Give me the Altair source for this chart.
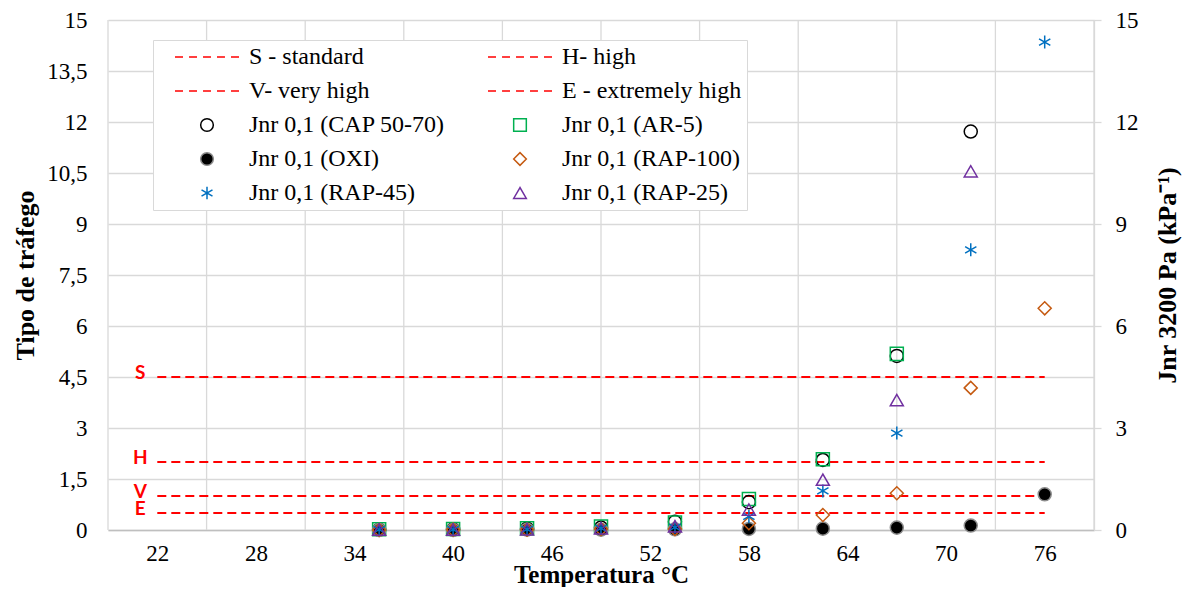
import altair as alt
import pandas as pd

# ---------------- data ----------------
temps = [35.5, 40, 44.5, 49, 53.5, 58, 62.5, 67, 71.5, 76]

cap5070 = [0.01, 0.02, 0.04, 0.07, 0.24, 0.82, 2.06, 5.12, 11.72, None]
ar5     = [0.02, 0.03, 0.05, 0.10, 0.22, 0.91, 2.08, 5.18, None, None]
oxi     = [0.00, 0.00, 0.01, 0.01, 0.02, 0.03, 0.04, 0.07, 0.13, 1.05]
rap100  = [0.00, 0.01, 0.01, 0.03, 0.03, 0.20, 0.44, 1.08, 4.18, 6.52]
rap45   = [0.01, 0.01, 0.02, 0.05, 0.08, 0.40, 1.15, 2.85, 8.24, 14.35]
rap25   = [0.01, 0.01, 0.02, 0.05, 0.11, 0.60, 1.48, 3.82, 10.55, None]

point_names = ["Jnr 0,1 (CAP 50-70)", "Jnr 0,1 (AR-5)", "Jnr 0,1 (OXI)",
               "Jnr 0,1 (RAP-100)", "Jnr 0,1 (RAP-45)", "Jnr 0,1 (RAP-25)"]
point_values = [cap5070, ar5, oxi, rap100, rap45, rap25]

thr_names = ["S - standard", "H- high", "V- very high", "E - extremely high"]
thr_letters = ["S", "H", "V", "E"]
thr_values = [4.5, 2.0, 1.0, 0.5]
thr_start = [22, 22, 22, 22]
thr_end = [76, 76, 76, 76]

x_labels = [22, 28, 34, 40, 46, 52, 58, 64, 70, 76]
x_grid = [19, 25, 31, 37, 43, 49, 55, 61, 67, 73, 79]
y_left_ticks = [0, 1.5, 3, 4.5, 6, 7.5, 9, 10.5, 12, 13.5, 15]
y_right_ticks = [0, 3, 6, 9, 12, 15]

# ---------------- tables ----------------
rows = []
for name, vals in zip(point_names, point_values):
    for t, v in zip(temps, vals):
        if v is not None:
            rows.append({"temp": t, "jnr": v, "series": name})
df = pd.DataFrame(rows)

thr_df = pd.DataFrame({"name": thr_names, "letter": thr_letters,
                       "value": thr_values, "x0": thr_start, "x1": thr_end})
grid_df = pd.DataFrame({"g": x_grid})

# ---------------- styles ----------------
FONT = "Liberation Serif"
GRID = "#d9d9d9"

dash_path = ("M-5.06,0L-3.79,0M-2.84,0L-1.58,0M-0.63,0L0.63,0"
             "M1.58,0L2.84,0M3.79,0L5.06,0")
asterisk = "M0,-1L0,1M-0.866,-0.5L0.866,0.5M-0.866,0.5L0.866,-0.5"

S_, H_, V_, E_ = thr_names
CAP, AR5, OXI, R100, R45, R25 = point_names
# legend fills column by column (2 columns)
legend_domain = [S_, V_, CAP, OXI, R45, H_, E_, AR5, R100, R25]
style = {
    S_: (dash_path, "#FF0000", "transparent"),
    V_: (dash_path, "#FF0000", "transparent"),
    H_: (dash_path, "#FF0000", "transparent"),
    E_: (dash_path, "#FF0000", "transparent"),
    CAP: ("circle", "#000000", "transparent"),
    AR5: ("square", "#00B050", "transparent"),
    OXI: ("circle", "#8c8c8c", "#000000"),
    R100: ("diamond", "#C55A11", "transparent"),
    R45: (asterisk, "#0070C0", "transparent"),
    R25: ("triangle-up", "#7030A0", "transparent"),
}
shape_range = [style[n][0] for n in legend_domain]
stroke_range = [style[n][1] for n in legend_domain]
fill_range = [style[n][2] for n in legend_domain]

xscale = alt.Scale(domain=[19, 79], nice=False, zero=False)
yscale = alt.Scale(domain=[0, 15], nice=False, zero=True)

x_axis = alt.Axis(values=x_labels, grid=False, ticks=False, domain=True,
                  domainColor="#bfbfbf", domainWidth=1.5, labelPadding=12,
                  titlePadding=-3, labelFontSize=23, titleFontSize=25)
y_axis = alt.Axis(values=y_left_ticks, grid=True, gridColor=GRID, gridWidth=1.3,
                  ticks=False, domain=False, labelPadding=21, titlePadding=8,
                  labelExpr="replace(format(datum.value, '.1~f'), '.', ',')",
                  labelFontSize=23, titleFontSize=26)

XT = "Temperatura °C"
YT = "Tipo de tráfego"

grid_layer = alt.Chart(grid_df).mark_rule(color=GRID, strokeWidth=1.3).encode(
    x=alt.X("g:Q", scale=xscale, axis=x_axis, title=XT)
)

thr_layer = alt.Chart(thr_df).mark_rule(color="#FF0000", strokeDash=[9, 5], strokeWidth=2).encode(
    x=alt.X("x0:Q", scale=xscale, axis=x_axis, title=XT),
    x2="x1:Q",
    y=alt.Y("value:Q", scale=yscale, axis=y_axis, title=YT),
)

letters = alt.Chart(thr_df).mark_text(
    align="center", baseline="middle", dx=-17, dy=-4, font="Lato",
    fontWeight="bold", fontSize=19, color="#FF0000"
).encode(
    x=alt.X("x0:Q", scale=xscale, axis=x_axis, title=XT),
    y=alt.Y("value:Q", scale=yscale, axis=y_axis, title=YT),
    text="letter:N",
)

points = alt.Chart(df).mark_point(size=170, strokeWidth=1.5, opacity=1).encode(
    x=alt.X("temp:Q", scale=xscale, axis=x_axis, title=XT),
    y=alt.Y("jnr:Q", scale=yscale, axis=y_axis, title=YT),
    shape=alt.Shape("series:N", scale=alt.Scale(domain=legend_domain, range=shape_range),
                    title=None,
                    legend=alt.Legend(orient="none", legendX=45, legendY=20, columns=2,
                                      fillColor="white", strokeColor=GRID, padding=5,
                                      labelFont=FONT, labelFontSize=24, labelColor="black",
                                      symbolSize=160, symbolStrokeWidth=1.5,
                                      symbolOffset=37, labelOffset=30,
                                      rowPadding=10, columnPadding=26, symbolLimit=0,
                                      labelLimit=400)),
    stroke=alt.Stroke("series:N", scale=alt.Scale(domain=legend_domain, range=stroke_range), title=None),
    fill=alt.Fill("series:N", scale=alt.Scale(domain=legend_domain, range=fill_range), title=None),
)

left = alt.layer(grid_layer, thr_layer, letters, points)

right = alt.Chart(df).mark_point(opacity=0).encode(
    y=alt.Y("jnr:Q", scale=alt.Scale(domain=[0, 15], nice=False, zero=True),
            axis=alt.Axis(orient="right", values=y_right_ticks, grid=False, ticks=True,
                          tickSize=7, tickColor=GRID, tickWidth=1.3, domain=True,
                          domainColor=GRID, domainWidth=1.3, labelPadding=14,
                          titleAngle=270, titlePadding=42, labelFontSize=23,
                          titleFontSize=26),
            title="Jnr 3200 Pa (kPa⁻¹)")
)

chart = alt.layer(left, right).resolve_scale(y="independent").properties(
    width=986, height=510,
    padding={"left": 100, "top": 12, "right": 89, "bottom": 57},
    autosize=alt.AutoSizeParams(type="none"),
    background="white",
).configure_axis(
    labelFont=FONT, labelColor="black", titleFont=FONT,
    titleFontWeight="bold", titleColor="black",
).configure_legend(
    labelFont=FONT,
).configure_view(strokeWidth=0)

chart.save("out.html", embed_options={"renderer": "svg", "actions": False})
